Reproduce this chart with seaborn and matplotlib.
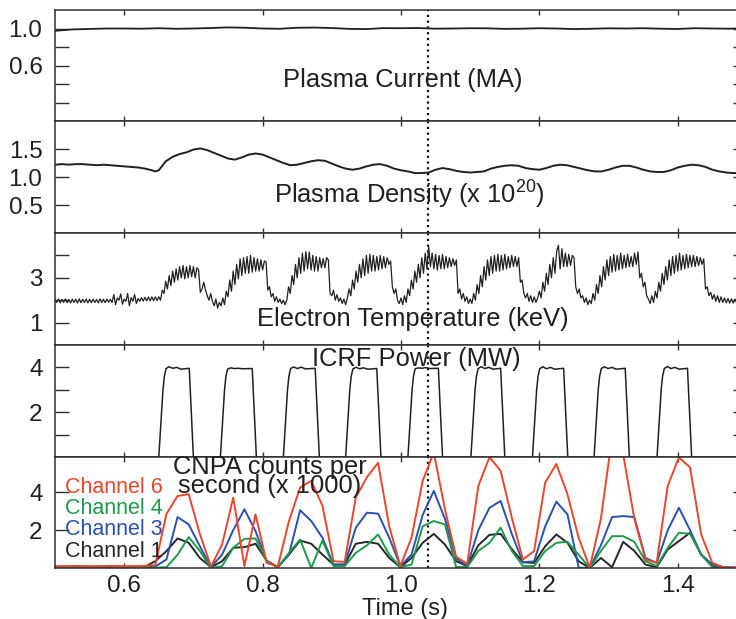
import numpy as np
import pandas as pd
import matplotlib
matplotlib.use("Agg")
import matplotlib.pyplot as plt
from matplotlib.ticker import FixedLocator, FixedFormatter
import seaborn as sns

# ---------------- plasma current (MA), 25 ms samples from 0.5 s ----------------
current_time = np.round(0.5 + 0.025 * np.arange(41), 4)
current_ma = [0.975, 0.99, 0.995, 1.0, 1.0, 0.998, 1.003, 0.997, 1.0, 1.005,
              1.012, 1.008, 1.0, 0.997, 1.008, 1.01, 1.005, 0.996, 0.994, 1.004,
              1.003, 1.005, 0.998, 1.0, 1.003, 1.002, 0.996, 0.998, 1.003, 1.0,
              0.994, 0.997, 1.002, 1.0, 1.003, 0.998, 0.995, 1.003, 1.0, 0.998,
              1.002]

# ---------------- line-averaged density (1e20 m^-3) ----------------
density_time = [0.50, 0.51, 0.52, 0.53, 0.54, 0.55, 0.56, 0.57, 0.58, 0.59,
                0.60, 0.61, 0.62, 0.63, 0.64, 0.645, 0.65, 0.655, 0.66, 0.67,
                0.68, 0.69, 0.70, 0.71, 0.72, 0.73, 0.74, 0.75, 0.76, 0.77,
                0.78, 0.79, 0.80, 0.81, 0.82, 0.83, 0.84, 0.85, 0.86, 0.87,
                0.88, 0.89, 0.90, 0.91, 0.92, 0.93, 0.94, 0.95, 0.96, 0.97,
                0.98, 0.99, 1.00, 1.01, 1.02, 1.03, 1.04, 1.05, 1.06, 1.07,
                1.08, 1.09, 1.10, 1.11, 1.12, 1.13, 1.14, 1.15, 1.16, 1.17,
                1.18, 1.19, 1.20, 1.21, 1.22, 1.23, 1.24, 1.25, 1.26, 1.27,
                1.28, 1.29, 1.30, 1.31, 1.32, 1.33, 1.34, 1.35, 1.36, 1.37,
                1.38, 1.39, 1.40, 1.41, 1.42, 1.43, 1.44, 1.45, 1.46, 1.47,
                1.48, 1.49, 1.50]
density_1e20 = [1.22, 1.23, 1.22, 1.23, 1.23, 1.22, 1.21, 1.22, 1.21, 1.20,
                1.19, 1.18, 1.17, 1.15, 1.12, 1.10, 1.12, 1.20, 1.28, 1.36,
                1.41, 1.44, 1.49, 1.51, 1.48, 1.43, 1.38, 1.33, 1.31, 1.35,
                1.40, 1.42, 1.40, 1.35, 1.30, 1.25, 1.21, 1.22, 1.25, 1.28,
                1.30, 1.29, 1.24, 1.19, 1.15, 1.13, 1.15, 1.19, 1.22, 1.23,
                1.20, 1.15, 1.12, 1.10, 1.07, 1.07, 1.08, 1.13, 1.16, 1.14,
                1.11, 1.09, 1.08, 1.09, 1.10, 1.15, 1.18, 1.20, 1.21, 1.20,
                1.16, 1.14, 1.13, 1.16, 1.20, 1.22, 1.21, 1.18, 1.15, 1.12,
                1.10, 1.10, 1.13, 1.17, 1.20, 1.20, 1.17, 1.13, 1.10, 1.09,
                1.09, 1.12, 1.17, 1.20, 1.22, 1.21, 1.18, 1.13, 1.10, 1.08,
                1.07, 1.07, 1.08]

# ---------------- electron temperature (keV), 2.5 ms samples ----------------
te_time = np.round(0.5 + 0.0025 * np.arange(400), 5)
te_kev = [
    2.02, 1.90, 2.05, 1.88, 2.04, 1.90, 2.06, 1.89, 2.03, 1.88, 2.05, 1.90, 2.04, 1.87, 2.06, 1.89, 2.04, 1.90, 2.05, 1.88,
    2.04, 1.89, 2.05, 1.90, 2.03, 1.88, 2.06, 1.90, 2.04, 1.89, 2.05, 1.91, 2.04, 1.90, 2.25, 1.80, 2.10, 2.00, 2.28, 1.82,
    2.05, 1.95, 2.30, 1.75, 2.12, 1.95, 2.25, 1.85, 2.08, 1.95, 2.12, 1.96, 2.13, 1.97, 2.14, 1.97, 2.15, 1.98, 2.15, 1.98,
    2.15, 2.00, 2.45, 2.30, 2.85, 2.50, 3.10, 2.65, 3.30, 2.80, 3.40, 2.90, 3.50, 3.00, 3.55, 2.95, 3.50, 3.00, 3.55, 3.05,
    3.50, 3.00, 3.45, 3.35, 2.35, 2.50, 2.80, 2.45, 2.20, 2.00, 2.30, 1.95, 1.75, 2.05, 1.65, 1.90, 1.75, 2.10, 1.80, 2.40,
    2.15, 2.90, 2.40, 3.30, 2.70, 3.60, 2.95, 3.85, 3.10, 3.90, 3.20, 3.95, 3.20, 4.00, 3.25, 3.90, 3.30, 3.85, 3.30, 3.80,
    3.35, 3.75, 3.70, 2.45, 2.60, 2.15, 2.30, 1.95, 2.15, 1.90, 2.05, 1.85, 2.00, 1.80, 2.00, 2.60, 2.30, 3.10, 2.70, 3.60,
    3.00, 3.90, 3.20, 4.10, 3.30, 4.17, 3.40, 4.15, 3.35, 4.00, 3.30, 3.95, 3.30, 3.90, 3.45, 3.85, 3.45, 3.90, 3.80, 2.30,
    2.20, 2.45, 2.00, 2.25, 1.95, 2.10, 1.85, 2.05, 1.80, 2.10, 2.50, 2.20, 2.90, 2.50, 3.30, 2.80, 3.60, 3.00, 3.85, 3.10,
    4.00, 3.20, 4.05, 3.30, 4.00, 3.30, 3.95, 3.35, 4.00, 3.40, 3.95, 3.45, 3.90, 3.60, 3.75, 2.60, 2.30, 2.50, 2.00, 1.85,
    2.10, 1.80, 2.20, 1.90, 2.50, 2.20, 2.90, 2.50, 3.30, 2.80, 3.60, 3.00, 3.90, 3.20, 4.10, 3.40, 4.38, 3.50, 4.10, 3.40,
    4.05, 3.35, 4.00, 3.40, 4.05, 3.40, 3.95, 3.45, 3.90, 3.50, 3.85, 3.55, 3.80, 2.30, 2.50, 2.05, 2.30, 1.95, 2.15, 1.85,
    2.05, 1.85, 2.30, 2.00, 2.70, 2.30, 3.10, 2.60, 3.50, 2.90, 3.80, 3.10, 3.95, 3.20, 4.00, 3.30, 4.05, 3.30, 4.00, 3.35,
    4.05, 3.40, 3.95, 3.45, 4.00, 3.50, 3.95, 3.50, 3.90, 2.80, 2.90, 2.30, 2.10, 2.30, 1.95, 2.20, 1.90, 2.15, 1.90, 2.10,
    2.40, 2.10, 2.80, 2.40, 3.20, 2.70, 3.60, 3.00, 3.90, 3.20, 4.20, 4.45, 3.40, 4.30, 3.50, 4.10, 3.50, 4.05, 3.55, 4.00,
    3.90, 2.60, 2.30, 2.50, 2.10, 2.20, 1.90, 2.10, 1.80, 2.00, 1.85, 2.30, 2.00, 2.70, 2.30, 3.10, 2.60, 3.50, 2.90, 3.80,
    3.10, 3.95, 3.25, 4.05, 3.30, 4.00, 3.35, 4.10, 3.40, 4.00, 3.45, 4.05, 3.50, 3.95, 3.50, 4.10, 3.60, 4.15, 3.00, 3.20,
    2.60, 2.80, 2.20, 2.05, 1.85, 2.20, 1.90, 2.40, 2.10, 2.80, 2.40, 3.20, 2.70, 3.50, 2.90, 3.80, 3.10, 3.95, 3.20, 4.00,
    3.30, 4.10, 3.35, 4.00, 3.40, 4.05, 3.45, 4.00, 3.50, 4.00, 3.50, 3.95, 3.55, 3.90, 3.60, 3.85, 2.50, 2.60, 2.20, 2.35,
    2.05, 2.25, 1.95, 2.20, 1.90, 2.15, 1.90, 2.10, 1.88, 2.08, 1.87, 2.06, 1.87, 2.05, 1.88, 2.04, 1.88, 2.03, 1.88, 2.02,
]

# ---------------- ICRF power (MW), nine modulated pulses ----------------
icrf_time = [0.500,
             0.650, 0.656, 0.658, 0.6605, 0.665, 0.670, 0.676, 0.682, 0.694, 0.700,
             0.739, 0.745, 0.747, 0.7495, 0.754, 0.759, 0.765, 0.771, 0.785, 0.791,
             0.830, 0.836, 0.838, 0.8405, 0.845, 0.850, 0.856, 0.862, 0.876, 0.882,
             0.920, 0.926, 0.928, 0.9305, 0.935, 0.940, 0.946, 0.952, 0.965, 0.971,
             1.010, 1.016, 1.018, 1.0205, 1.025, 1.030, 1.036, 1.042, 1.054, 1.060,
             1.101, 1.107, 1.109, 1.1115, 1.116, 1.121, 1.127, 1.133, 1.144, 1.150,
             1.190, 1.196, 1.198, 1.2005, 1.205, 1.210, 1.216, 1.222, 1.235, 1.241,
             1.279, 1.285, 1.287, 1.2895, 1.294, 1.299, 1.305, 1.311, 1.324, 1.330,
             1.370, 1.376, 1.378, 1.3805, 1.385, 1.390, 1.396, 1.402, 1.414, 1.420,
             1.500]
icrf_mw = [0.0,
           0.0, 3.0, 3.6, 3.95, 4.03, 3.96, 4.00, 3.92, 3.96, 0.0,
           0.0, 3.0, 3.6, 3.93, 3.98, 3.95, 3.96, 3.94, 3.95, 0.0,
           0.0, 3.0, 3.6, 3.95, 4.02, 3.95, 4.01, 3.93, 3.96, 0.0,
           0.0, 3.0, 3.6, 3.93, 4.01, 3.94, 3.98, 3.92, 3.95, 0.0,
           0.0, 3.0, 3.6, 3.94, 3.98, 3.96, 3.99, 3.95, 3.96, 0.0,
           0.0, 3.0, 3.6, 3.95, 4.03, 3.95, 4.00, 3.92, 3.96, 0.0,
           0.0, 3.0, 3.6, 3.94, 4.03, 3.94, 4.00, 3.92, 3.96, 0.0,
           0.0, 3.0, 3.6, 3.95, 4.03, 3.95, 4.00, 3.92, 3.96, 0.0,
           0.0, 3.0, 3.6, 3.95, 4.04, 3.95, 4.00, 3.92, 3.96, 0.0,
           0.0]

# ---------------- CNPA counts per second (x1000), 16.1 ms frames ----------------
cnpa_time = np.round(0.5 + 0.0161 * np.arange(63), 4)
channel_6 = [0.10, 0.10, 0.11, 0.10, 0.10, 0.11, 0.10, 0.10, 0.11, 0.15,
             2.85, 3.80, 3.90, 1.80, 0.08, 1.24, 3.72, 0.10, 2.83, 0.27,
             0.08, 2.48, 4.25, 4.60, 3.30, 0.36, 0.32, 3.72, 4.80, 5.55,
             2.20, 0.10, 1.60, 4.60, 6.10, 3.10, 0.60, 0.22, 4.34, 5.85,
             5.13, 2.66, 0.45, 0.89, 4.51, 5.49, 3.89, 1.60, 0.02, 2.60,
             6.90, 6.00, 2.60, 0.45, 0.27, 4.34, 5.84, 5.31, 1.77, 0.27,
             0.04, 0.03, 0.03]
channel_4 = [0.02, 0.02, 0.02, 0.02, 0.02, 0.02, 0.02, 0.02, 0.02, 0.02,
             0.04, 0.70, 1.63, 0.90, 0.00, 0.10, 1.07, 1.54, 1.56, 0.36,
             0.04, 0.80, 1.50, 0.00, 1.45, 0.10, 0.10, 0.80, 1.20, 1.77,
             0.71, 0.05, 0.18, 2.20, 2.48, 2.30, 0.05, 0.05, 0.90, 1.33,
             2.13, 0.90, 0.10, 0.10, 0.90, 1.33, 1.38, 0.70, 0.00, 0.90,
             1.68, 1.68, 1.38, 0.36, 0.10, 1.07, 1.86, 1.80, 0.71, 0.04,
             0.00, 0.00, 0.00]
channel_3 = [0.03, 0.03, 0.03, 0.03, 0.03, 0.03, 0.03, 0.03, 0.03, 0.08,
             0.45, 2.69, 2.30, 1.15, 0.05, 0.71, 2.00, 3.10, 1.95, 0.36,
             0.05, 0.71, 3.05, 2.48, 1.60, 0.18, 0.18, 2.13, 2.92, 2.87,
             1.60, 0.10, 0.71, 2.80, 4.07, 2.60, 0.50, 0.10, 2.00, 3.18,
             3.54, 1.80, 0.30, 0.35, 2.20, 3.50, 2.83, 0.02, 0.00, 1.20,
             2.69, 2.74, 2.69, 0.53, 0.27, 2.00, 3.18, 2.00, 0.70, 0.20,
             0.04, 0.02, 0.02]
channel_1 = [0.04, 0.04, 0.04, 0.04, 0.04, 0.04, 0.04, 0.04, 0.04, 0.36,
             0.89, 1.56, 1.33, 0.53, 0.04, 0.36, 1.07, 1.10, 1.28, 0.39,
             0.04, 0.71, 1.45, 1.28, 0.71, 0.18, 0.18, 1.28, 1.38, 1.28,
             0.53, 0.04, 0.53, 1.33, 1.80, 1.24, 0.36, 0.10, 1.20, 1.75,
             1.80, 1.00, 0.30, 0.27, 1.15, 1.77, 1.33, 0.36, 0.00, 0.53,
             0.04, 1.38, 0.90, 0.18, 0.04, 0.98, 1.42, 1.86, 0.71, 0.10,
             0.02, 0.01, 0.01]
channel_names = ["Channel 1", "Channel 3", "Channel 4", "Channel 6"]
channel_colors = {"Channel 6": "#e8472c", "Channel 4": "#1c9b4b",
                  "Channel 3": "#2a50b0", "Channel 1": "#262626"}

# time of interest marked on every trace
marker_time = 1.0395

# ---------------- styling ----------------
sns.set_style("ticks")
plt.rcParams["font.family"] = ["Liberation Sans", "DejaVu Sans"]
plt.rcParams["mathtext.default"] = "regular"
plt.rcParams["axes.linewidth"] = 1.1
plt.rcParams["axes.edgecolor"] = "#303030"
ink = "#202020"

fig = plt.figure(figsize=(7.36, 6.19), dpi=100)
W, H = 736.0, 619.0
left_px, right_px = 55, 747
edges = [10, 121, 233, 345, 457, 568]
axes = []
for i in range(5):
    top, bot = edges[i], edges[i + 1]
    ax = fig.add_axes([left_px / W, 1 - bot / H, (right_px - left_px) / W, (bot - top) / H])
    ax.set_facecolor("white")
    axes.append(ax)

ax_i, ax_n, ax_te, ax_rf, ax_np = axes
line_kw = dict(errorbar=None, sort=False, legend=False)

sns.lineplot(x=current_time, y=current_ma, ax=ax_i, color=ink, lw=1.3, **line_kw)
sns.lineplot(x=density_time, y=density_1e20, ax=ax_n, color=ink, lw=1.4, **line_kw)
sns.lineplot(x=te_time, y=te_kev, ax=ax_te, color=ink, lw=0.9, **line_kw)
sns.lineplot(x=icrf_time, y=icrf_mw, ax=ax_rf, color=ink, lw=1.1, **line_kw)

cnpa = pd.DataFrame({
    "time": np.tile(cnpa_time, 4),
    "counts": channel_1 + channel_3 + channel_4 + channel_6,
    "channel": np.repeat(channel_names, len(cnpa_time)),
})
sns.lineplot(data=cnpa, x="time", y="counts", hue="channel", hue_order=channel_names,
             palette=channel_colors, ax=ax_np, lw=1.4, **line_kw)

# y ranges, ticks and labels for each panel
panel_y = [
    (ax_i, (0, 1.2), [0.2, 0.4, 0.6, 0.8, 1.0], ["", "", "0.6", "", "1.0"]),
    (ax_n, (0, 2.0), [0.5, 1.0, 1.5], ["0.5", "1.0", "1.5"]),
    (ax_te, (0, 5.0), [1, 2, 3, 4], ["1", "", "3", ""]),
    (ax_rf, (0, 5.0), [1, 2, 3, 4], ["", "2", "", "4"]),
    (ax_np, (0, 5.86), [2, 4], ["2", "4"]),
]
for ax, ylim, ticks, labels in panel_y:
    ax.set_xlim(0.5, 1.5)
    ax.set_ylim(*ylim)
    ax.yaxis.set_major_locator(FixedLocator(ticks))
    ax.yaxis.set_major_formatter(FixedFormatter(labels))
    ax.xaxis.set_major_locator(FixedLocator([0.6, 0.8, 1.0, 1.2, 1.4]))
    ax.tick_params(axis="y", direction="in", length=10, width=1.0, left=True, right=True,
                   labelsize=17.5, pad=9, colors="#303030", labelcolor=ink)
    ax.tick_params(axis="x", direction="in", length=3.5, width=1.0, top=True, bottom=True,
                   labelsize=17.5, pad=5, colors="#303030", labelcolor=ink,
                   labelbottom=(ax is ax_np))
    ax.set_xlabel("")
    ax.set_ylabel("")
    for s in ax.spines.values():
        s.set_visible(True)
    ax.axvline(marker_time, color="#111111", ls=(0, (1.0, 1.6)), lw=1.6, zorder=1)

ax_np.set_xticklabels(["0.6", "0.8", "1.0", "1.2", "1.4"])

# panel titles
label_kw = dict(ha="center", va="baseline", fontsize=18.4, color=ink)
ax_i.text(1.002, 0.366, "Plasma Current (MA)", **label_kw)
ax_n.text(1.012, 0.518, r"Plasma Density (x 10$^{20}$)", **label_kw)
ax_te.text(1.0166, 0.87, "Electron Temperature (keV)", **label_kw)
ax_rf.text(1.0217, 4.08, "ICRF Power (MW)", **label_kw)
ax_np.text(0.810, 3.98, "CNPA counts per\nsecond (x 1000)", ha="center", va="baseline",
           multialignment="center", linespacing=0.72, fontsize=18.4, color=ink)

# channel key written in the line colours
key_y = {"Channel 6": 3.98, "Channel 4": 2.83, "Channel 3": 1.72, "Channel 1": 0.59}
for name, yv in key_y.items():
    ax_np.text(0.5145, yv, name, ha="left", va="baseline", fontsize=15.5,
               color=channel_colors[name])

fig.text(405 / W, 1 - 615 / H, "Time (s)", ha="center", va="baseline", fontsize=17, color=ink)

fig.savefig("out.png", dpi=100)
